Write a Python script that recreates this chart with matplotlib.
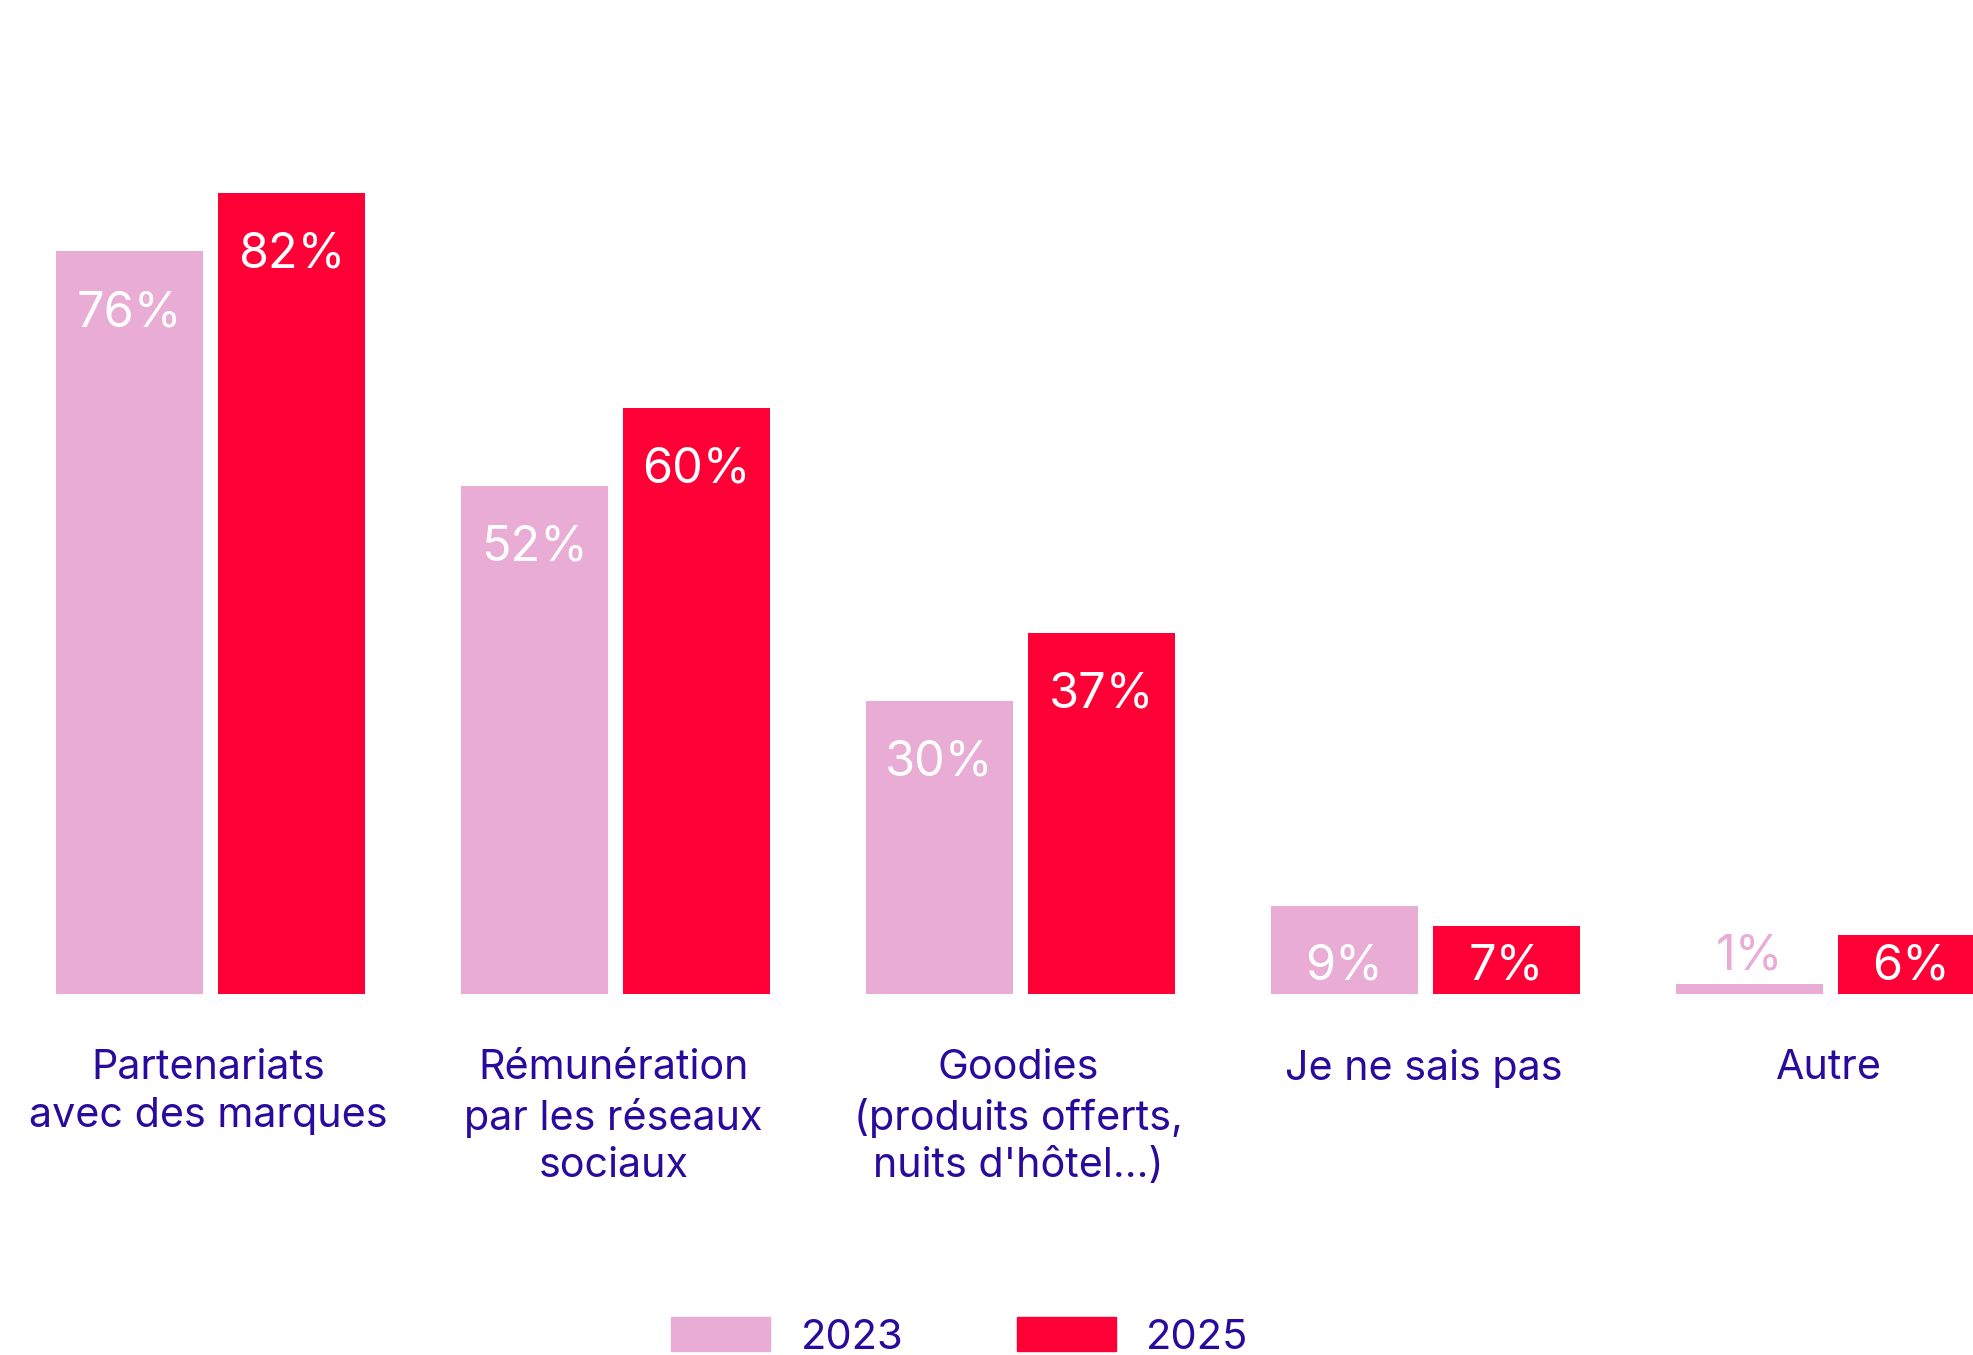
import matplotlib
matplotlib.use("Agg")
import matplotlib.pyplot as plt
import numpy as np
from matplotlib.patches import Patch

plt.rcParams['font.family'] = ['Inter', 'DejaVu Sans']

categories = ["Partenariats\navec des marques",
              "Rémunération\npar les réseaux\nsociaux",
              "Goodies\n(produits offerts,\nnuits d'hôtel...)",
              "Je ne sais pas",
              "Autre"]
series_names = ["2023", "2025"]
values_2023 = [76, 52, 30, 9, 1]
values_2025 = [82, 60, 37, 7, 6]

col_2023 = "#E8ACD5"
col_2025 = "#FF0036"
txt_col = "#2A0A9C"

W, H = 1973, 1355
dpi = 100
fig = plt.figure(figsize=(W / dpi, H / dpi), dpi=dpi)
base_px = 994
ax = fig.add_axes([0, (H - base_px) / H, 1, base_px / H])
px_per_unit = 9.77
ax.set_ylim(0, base_px / px_per_unit)
ax.set_xlim((0 - 210.5) / 405, (W - 210.5) / 405)
ax.axis('off')

x = np.arange(len(categories))
bw = 147 / 405
off = 81 / 405
ax.bar(x - off, values_2023, bw, color=col_2023, clip_on=True)
ax.bar(x + off, values_2025, bw, color=col_2025, clip_on=True)

fs_lab = 35
inside_off = 62 / px_per_unit
min_center = 27 / px_per_unit
for xs, vals, col in ((x - off, values_2023, col_2023), (x + off, values_2025, col_2025)):
    for xi, v in zip(xs, vals):
        if v >= 3:
            y = max(v - inside_off, min_center)
            ax.text(xi, y, f"{v}%", ha='center', va='center', color='white',
                    fontsize=fs_lab, clip_on=False)
        else:
            y = v + 28 / px_per_unit
            ax.text(xi, y, f"{v}%", ha='center', va='center', color=col,
                    fontsize=fs_lab, clip_on=False)

for xi, lab in zip(x, categories):
    ax.annotate(lab, xy=(xi - 0.005, H - 1049), xycoords=('data', 'figure pixels'),
                ha='center', va='top', color=txt_col, fontsize=29.7,
                linespacing=1.33, multialignment='center', annotation_clip=False)

handles = [Patch(color=col_2023, label=series_names[0]),
           Patch(color=col_2025, label=series_names[1])]
fs_leg = 30
fs_px = fs_leg * dpi / 72
leg = fig.legend(handles=handles, loc='center', ncol=2,
                 bbox_to_anchor=(960 / W, 18 / H), frameon=False,
                 fontsize=fs_leg, handlelength=99 / fs_px, handleheight=36 / fs_px,
                 handletextpad=30 / fs_px, columnspacing=114 / fs_px, borderpad=0,
                 borderaxespad=0)
for t in leg.get_texts():
    t.set_color(txt_col)

fig.savefig("out.png", dpi=dpi)
